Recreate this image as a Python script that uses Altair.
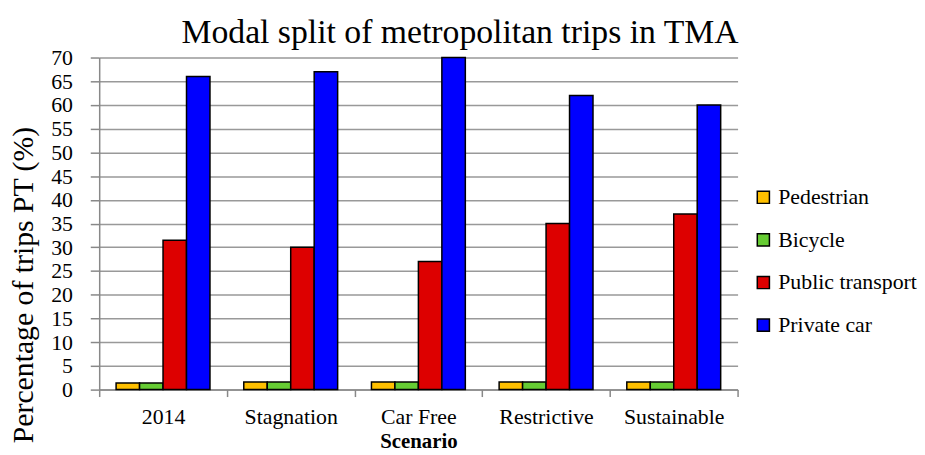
import altair as alt
import pandas as pd

scenarios = ["2014", "Stagnation", "Car Free", "Restrictive", "Sustainable"]
modes = ["Pedestrian", "Bicycle", "Public transport", "Private car"]
pedestrian = [1.4, 1.6, 1.6, 1.6, 1.6]
bicycle = [1.4, 1.6, 1.6, 1.6, 1.6]
public_transport = [31.5, 30, 27, 35, 37]
private_car = [66, 67, 70, 62, 60]
colors = ["#FFC000", "#66CC33", "#DD0000", "#0000FF"]
y_ticks = list(range(0, 75, 5))

series = [pedestrian, bicycle, public_transport, private_car]
rows = []
for m, vals in zip(modes, series):
    for s, v in zip(scenarios, vals):
        rows.append({"Scenario": s, "Mode": m, "Value": v})
df = pd.DataFrame(rows)

FONT = "Liberation Serif"

chart = alt.Chart(df).mark_bar(stroke="black", strokeWidth=1.5).encode(
    x=alt.X("Scenario:N", sort=scenarios,
            scale=alt.Scale(paddingInner=0, paddingOuter=0),
            axis=alt.Axis(title="Scenario", labelAngle=0, tickBand="extent",
                          labelFont=FONT, labelFontSize=22, labelColor="black",
                          labelPadding=10, tickSize=7, tickColor="#888888", tickWidth=1.5,
                          domainColor="#888888", domainWidth=1.5,
                          titleFont=FONT, titleFontSize=21, titleFontWeight="bold",
                          titleColor="black", titleY=58, titleBaseline="alphabetic")),
    xOffset=alt.XOffset("Mode:N", sort=modes,
                        scale=alt.Scale(paddingOuter=0.72, paddingInner=0)),
    y=alt.Y("Value:Q", scale=alt.Scale(domain=[0, 70], nice=False),
            axis=alt.Axis(title="Percentage of trips PT (%)", values=y_ticks,
                          grid=True, gridColor="#999999", gridWidth=1.5,
                          labelFont=FONT, labelFontSize=22, labelColor="black",
                          labelPadding=18, tickSize=9, tickColor="#888888", tickWidth=1.5,
                          domainColor="#888888", domainWidth=1.5,
                          titleFont=FONT, titleFontSize=30, titleFontWeight="normal",
                          titleColor="black", titleX=-76, titleY=229,
                          titleAlign="center", titleBaseline="middle", titleAngle=-90)),
    color=alt.Color("Mode:N", sort=modes,
                    scale=alt.Scale(domain=modes, range=colors),
                    legend=alt.Legend(title=None, orient="none", legendX=659, legendY=130,
                                      symbolType="square", symbolSize=150,
                                      symbolStrokeColor="black", symbolStrokeWidth=1.5,
                                      labelFont=FONT, labelFontSize=22, labelColor="black",
                                      labelOffset=4, rowPadding=21)),
).properties(
    width=644,
    height=335,
    title=alt.TitleParams("Modal split of metropolitan trips in TMA", font=FONT,
                          fontSize=34, fontWeight="normal", color="black",
                          anchor="middle", dx=42, dy=13, offset=10),
    autosize=alt.AutoSizeParams(type="none"),
    padding={"left": 92, "top": 48, "right": 181, "bottom": 64},
).configure(font=FONT).configure_legend(labelFont=FONT).configure_view(stroke=None)

chart.save("out.html", embed_options={"renderer": "svg", "actions": False})
